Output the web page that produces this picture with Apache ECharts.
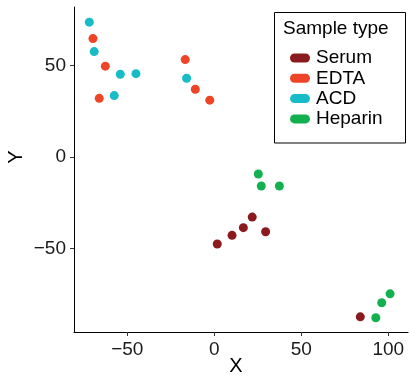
<!DOCTYPE html>
<html><head><meta charset="utf-8">
<script src="https://cdn.jsdelivr.net/npm/echarts@6/dist/echarts.min.js"></script>
<style>html,body{margin:0;padding:0;background:#fff}#c{width:409px;height:376px}</style>
</head><body><div id="c"></div>
<script>
const seriesNames = ['Serum', 'EDTA', 'ACD', 'Heparin'];
const serumX = [1.7, 10.2, 16.7, 21.8, 29.5, 83.9];
const serumY = [-47.6, -42.9, -38.7, -32.9, -40.9, -87.5];
const edtaX = [-69.7, -62.6, -66.1, -16.7, -10.9, -2.6];
const edtaY = [64.8, 49.7, 32.1, 53.3, 37.1, 31.1];
const acdX = [-71.8, -69.0, -54.0, -45.0, -57.5, -15.9];
const acdY = [73.8, 57.7, 45.3, 45.6, 33.6, 43.1];
const heparinX = [25.3, 27.0, 37.4, 101.0, 96.2, 92.8];
const heparinY = [-9.3, -15.9, -15.9, -74.9, -79.8, -88.0];
const xTicks = [-50, 0, 50, 100];
const yTicks = [-50, 0, 50];
const colors = ['#8B1A1E', '#EE4428', '#17BCC6', '#12B04F'];

const xs = [serumX, edtaX, acdX, heparinX];
const ys = [serumY, edtaY, acdY, heparinY];
const fmt = v => (v < 0 ? '\u2212' + Math.abs(v) : String(v));
const font = 'Liberation Sans, Arial, sans-serif';

const chart = echarts.init(document.getElementById('c'), null, {renderer: 'canvas'});
chart.setOption({
  animation: false,
  backgroundColor: '#fff',
  grid: {left: 74, right: 1, top: 7, bottom: 44, containLabel: false},
  xAxis: {
    type: 'value', min: -80.6, max: 111.3,
    splitLine: {show: false},
    axisLine: {show: true, onZero: false, lineStyle: {color: '#000', width: 1}},
    axisTick: {show: true, length: 4, customValues: xTicks, lineStyle: {color: '#333'}},
    axisLabel: {customValues: xTicks, formatter: fmt, margin: 8, fontSize: 19, color: '#1a1a1a', fontFamily: font}
  },
  yAxis: {
    type: 'value', min: -95.8, max: 82.1,
    splitLine: {show: false},
    axisLine: {show: true, onZero: false, lineStyle: {color: '#000', width: 1}},
    axisTick: {show: true, length: 4, customValues: yTicks, lineStyle: {color: '#333'}},
    axisLabel: {customValues: yTicks, formatter: fmt, margin: 8, fontSize: 19, color: '#1a1a1a', fontFamily: font}
  },
  legend: {
    orient: 'vertical', left: 290, top: 48,
    data: seriesNames,
    icon: 'path://M4.5,0 L15.5,0 A4.5,4.5 0 0 1 15.5,9 L4.5,9 A4.5,4.5 0 0 1 4.5,0 Z',
    itemWidth: 20, itemHeight: 9, itemGap: 0.3,
    textStyle: {fontSize: 19, lineHeight: 20, color: '#000', fontFamily: font, padding: [0, 0, 0, 1]},
    padding: 0
  },
  graphic: [
    {type: 'rect', shape: {x: 274.5, y: 12.5, width: 131, height: 130.5}, style: {fill: 'none', stroke: '#000', lineWidth: 1}, z: 1},
    {type: 'text', x: 283, y: 29, style: {text: 'Sample type', fontSize: 19, fill: '#000', fontFamily: font, verticalAlign: 'middle'}},
    {type: 'text', x: 236, y: 366, style: {text: 'X', fontSize: 20, fill: '#000', fontFamily: font, align: 'center', verticalAlign: 'middle'}},
    {type: 'text', x: 16, y: 157, rotation: Math.PI / 2, style: {text: 'Y', fontSize: 20, fill: '#000', fontFamily: font, align: 'center', verticalAlign: 'middle'}}
  ],
  series: seriesNames.map((n, i) => ({
    name: n, type: 'scatter', symbolSize: 9,
    itemStyle: {color: colors[i], opacity: 1},
    data: xs[i].map((x, j) => [x, ys[i][j]])
  }))
});
</script></body></html>
